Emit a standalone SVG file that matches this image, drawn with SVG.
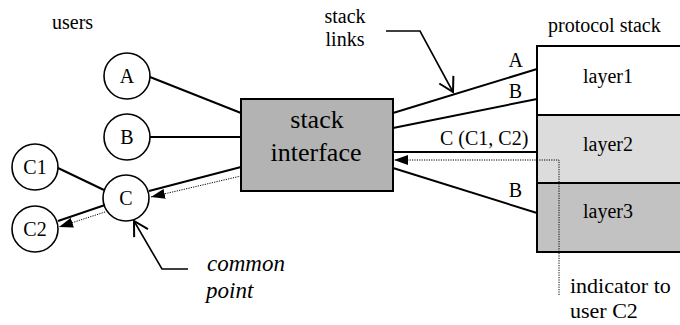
<svg xmlns="http://www.w3.org/2000/svg" width="680" height="325" viewBox="0 0 680 325">
<defs>
<marker id="fill" markerUnits="userSpaceOnUse" markerWidth="14" markerHeight="10" refX="14" refY="5" orient="auto" viewBox="0 0 14 10">
<path d="M0,0 L14,5 L0,10 z" fill="#000"/>
</marker>
<marker id="open" markerUnits="userSpaceOnUse" markerWidth="18" markerHeight="18" refX="16" refY="9" orient="auto" viewBox="0 0 18 18" overflow="visible">
<path d="M2,1 L16,9 L2,17" fill="none" stroke="#000" stroke-width="2"/>
</marker>
</defs>
<rect width="680" height="325" fill="#fff"/>
<text x="52" y="29" font-family="Liberation Serif" font-size="20">users</text>
<text x="548" y="32" font-family="Liberation Serif" font-size="20">protocol stack</text>
<text x="345" y="23" text-anchor="middle" font-family="Liberation Serif" font-size="20">stack</text>
<text x="345" y="46" text-anchor="middle" font-family="Liberation Serif" font-size="20">links</text>
<g id="stack" stroke="#000" stroke-width="2">
<rect x="537" y="46" width="160" height="69" fill="#fff"/>
<rect x="537" y="115" width="160" height="68" fill="#dcdcdc"/>
<rect x="537" y="183" width="160" height="69" fill="#c2c2c2"/>
</g>
<g id="layers">
<text x="583" y="83" font-family="Liberation Serif" font-size="20">layer1</text>
<text x="583" y="151" font-family="Liberation Serif" font-size="20">layer2</text>
<text x="583" y="218" font-family="Liberation Serif" font-size="20">layer3</text>
</g>
<g id="iface">
<rect x="241" y="99" width="152" height="92" fill="#b3b3b3" stroke="#000" stroke-width="2"/>
<text x="317" y="128" text-anchor="middle" font-family="Liberation Serif" font-size="26">stack</text>
<text x="316" y="161" text-anchor="middle" font-family="Liberation Serif" font-size="26">interface</text>
</g>
<g id="nA"><circle cx="127" cy="76" r="23" fill="#fff" stroke="#000" stroke-width="1.6"/><text x="127" y="83" text-anchor="middle" font-family="Liberation Serif" font-size="20">A</text></g>
<g id="nB"><circle cx="127" cy="137" r="23" fill="#fff" stroke="#000" stroke-width="1.6"/><text x="127" y="144" text-anchor="middle" font-family="Liberation Serif" font-size="20">B</text></g>
<g id="nC1"><circle cx="35" cy="167" r="23" fill="#fff" stroke="#000" stroke-width="1.6"/><text x="35" y="174" text-anchor="middle" font-family="Liberation Serif" font-size="20">C1</text></g>
<g id="nC"><circle cx="126" cy="198" r="23" fill="#fff" stroke="#000" stroke-width="1.6"/><text x="126" y="205" text-anchor="middle" font-family="Liberation Serif" font-size="20">C</text></g>
<g id="nC2"><circle cx="35" cy="229" r="23" fill="#fff" stroke="#000" stroke-width="1.6"/><text x="35" y="236" text-anchor="middle" font-family="Liberation Serif" font-size="20">C2</text></g>
<g id="connectors" fill="none" stroke="#000" stroke-width="2">
<path d="M393,113 L537,69"/>
<path d="M393,128 L537,99"/>
<path d="M393,152 L537,152"/>
<path d="M393,168 L537,213"/>
<path d="M150,77 L241,113"/>
<path d="M150,137 L241,137"/>
<path d="M241,167 L149,191"/>
<path d="M58,168 L104,190"/>
<path d="M105,205 L58,221"/>
<g stroke-width="1" stroke-dasharray="1.2,1.2">
<path d="M559,295 L559,160 L394,160" marker-end="url(#fill)"/>
<path d="M241,176 L151,197" marker-end="url(#fill)"/>
<path d="M105,212 L59,227" marker-end="url(#fill)"/>
</g>
<g stroke-width="1.6">
<path d="M386,31 L420,31 L453,92" marker-end="url(#open)"/>
<path d="M188,269 L162,269 L134,221" marker-end="url(#open)"/>
</g>
</g>
<text x="523" y="67" text-anchor="end" font-family="Liberation Serif" font-size="20">A</text>
<text x="522" y="98" text-anchor="end" font-family="Liberation Serif" font-size="20">B</text>
<text x="440" y="145" font-family="Liberation Serif" font-size="20">C (C1, C2)</text>
<text x="522" y="197" text-anchor="end" font-family="Liberation Serif" font-size="20">B</text>
<text x="207" y="271" font-style="italic" font-family="Liberation Serif" font-size="23">common</text>
<text x="206" y="298" font-style="italic" font-family="Liberation Serif" font-size="23">point</text>
<text x="570" y="293" font-family="Liberation Serif" font-size="22">indicator to</text>
<text x="570" y="318" font-family="Liberation Serif" font-size="22">user C2</text>
</svg>
